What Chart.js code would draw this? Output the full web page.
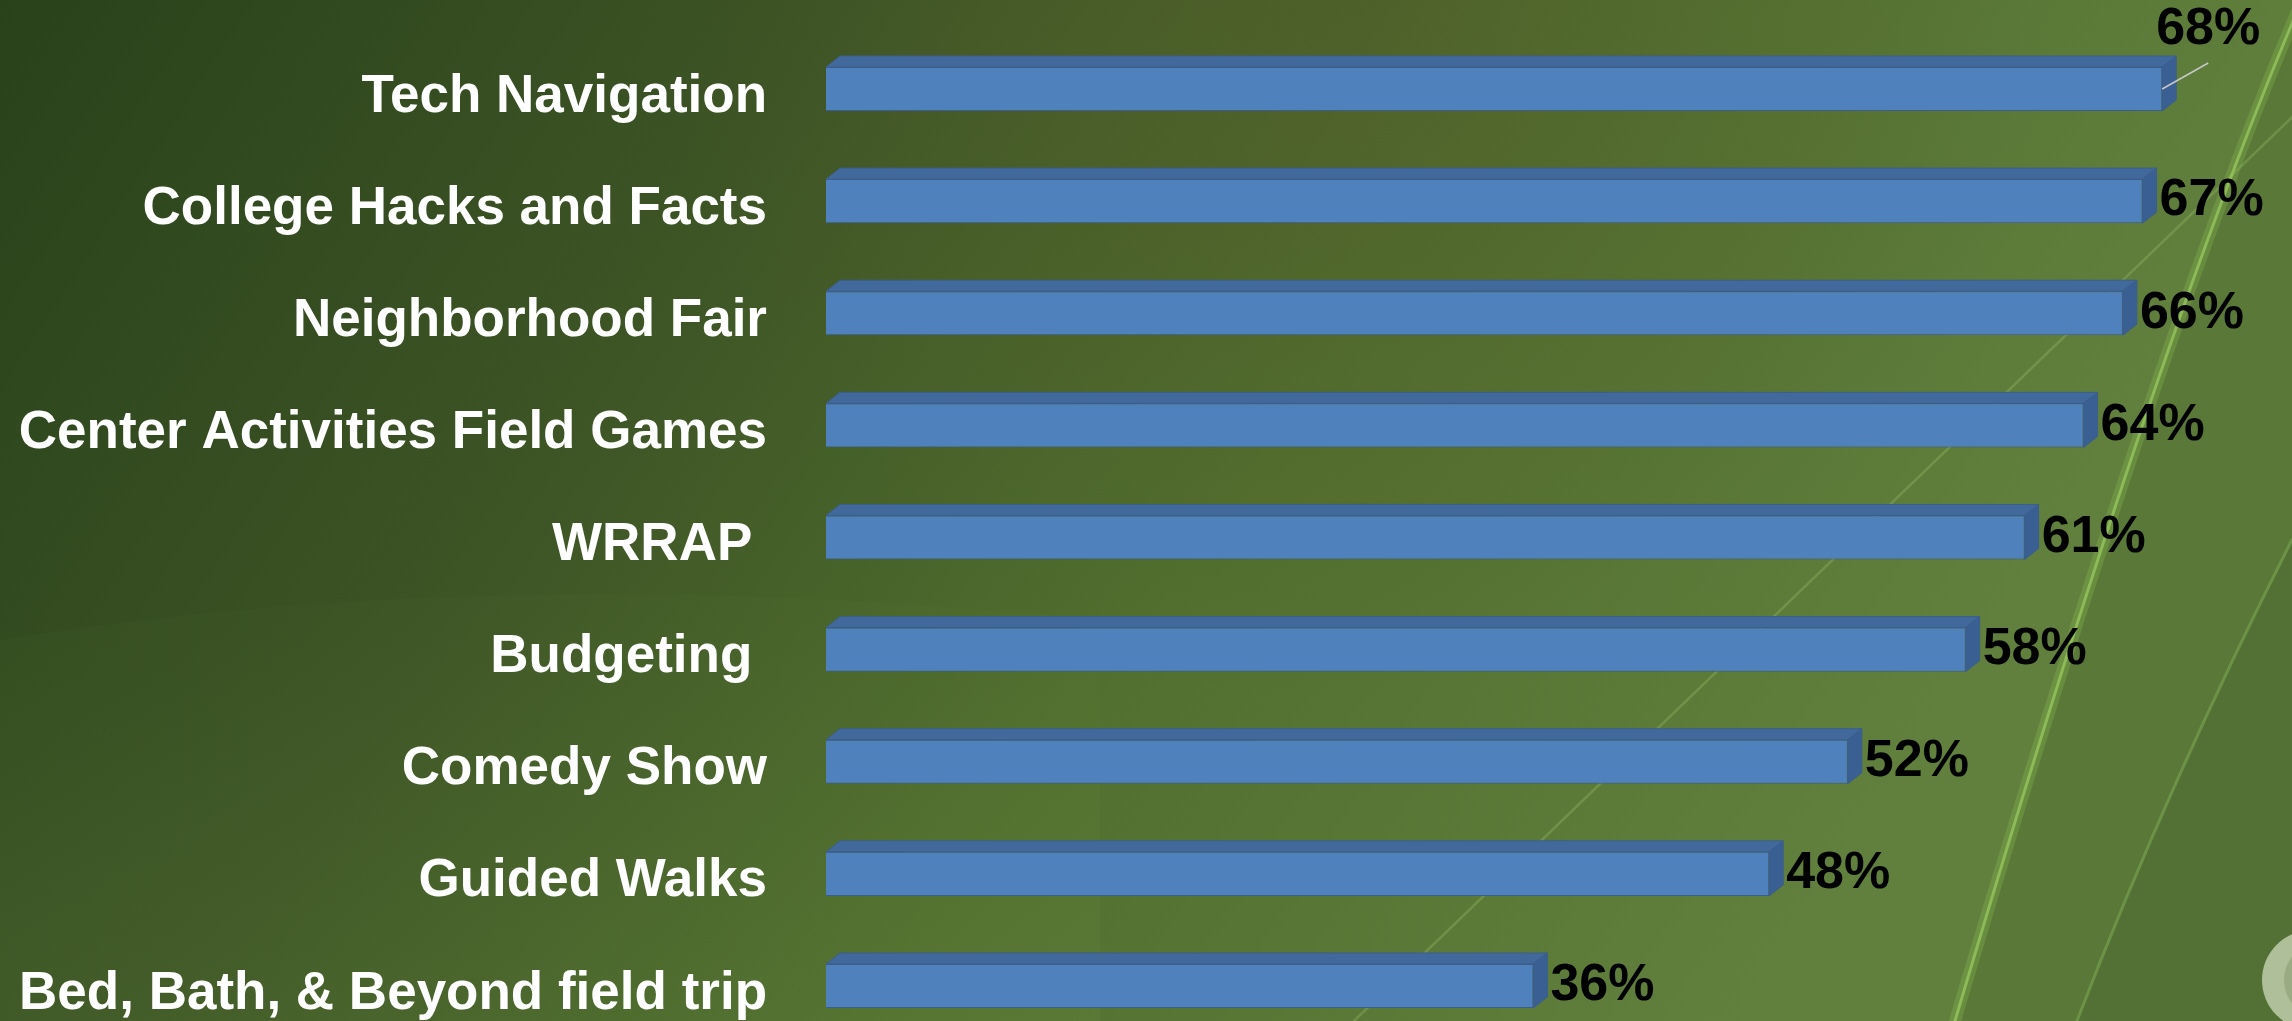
<!DOCTYPE html>
<html>
<head>
<meta charset="utf-8">
<script src="https://cdn.jsdelivr.net/npm/chart.js@4.4.1/dist/chart.umd.min.js"></script>
<style>
  html, body { margin: 0; padding: 0; overflow: hidden; background: #445e2a; }
  canvas { display: block; }
</style>
</head>
<body>
<canvas id="myChart" width="2292" height="1021"></canvas>
<script>
// activities (top to bottom)
const labels = [
    'Tech Navigation',
    'College Hacks and Facts',
    'Neighborhood Fair',
    'Center Activities Field Games',
    'WRRAP ',
    'Budgeting ',
    'Comedy Show',
    'Guided Walks',
    'Bed, Bath, & Beyond field trip',
];

// percent of participants
const values = [68, 67, 66, 64, 61, 58, 52, 48, 36];

// bar faces
const frontColor = '#4f81bd';
const topColor = '#42699b';
const sideColor = '#3a6093';
const edgeColor = '#3b5e8c';
const depthX = 14;
const depthY = 11;

const valueFont = 'bold 52px "Liberation Sans", Arial, sans-serif';

// slide background (leaf)
const leafBackground = {
    id: 'leafBackground',
    beforeDraw(chart) {
        const { ctx, width, height } = chart;
        ctx.save();
        let g = ctx.createLinearGradient(0, 0, 1700, 1100);
        g.addColorStop(0, '#29421a');
        g.addColorStop(0.35, '#3d5425');
        g.addColorStop(0.65, '#52702f');
        g.addColorStop(1, '#61803e');
        ctx.fillStyle = g;
        ctx.fillRect(0, 0, width, height);

        // olive haze along the top
        g = ctx.createRadialGradient(1350, 0, 0, 1350, 0, 700);
        g.addColorStop(0, 'rgba(80,90,40,0.55)');
        g.addColorStop(1, 'rgba(80,90,40,0)');
        ctx.fillStyle = g;
        ctx.fillRect(0, 0, width, height);

        // lighter lower-left leaf
        ctx.beginPath();
        ctx.moveTo(0, 640);
        ctx.quadraticCurveTo(500, 560, 1100, 620);
        ctx.lineTo(1100, height);
        ctx.lineTo(0, height);
        ctx.closePath();
        g = ctx.createLinearGradient(0, 620, 0, height);
        g.addColorStop(0, 'rgba(110,150,70,0.04)');
        g.addColorStop(1, 'rgba(110,150,70,0.15)');
        ctx.fillStyle = g;
        ctx.fill();

        // band right of the main streak
        ctx.beginPath();
        ctx.moveTo(2302, 0);
        ctx.quadraticCurveTo(2160, 330, 1955, height);
        ctx.lineTo(width, height);
        ctx.lineTo(width, 0);
        ctx.closePath();
        ctx.fillStyle = 'rgba(75,105,45,0.3)';
        ctx.fill();

        // darker band right of the second streak
        ctx.beginPath();
        ctx.moveTo(width, 540);
        ctx.quadraticCurveTo(2170, 780, 2077, height);
        ctx.lineTo(width, height);
        ctx.closePath();
        ctx.fillStyle = 'rgba(70,95,45,0.3)';
        ctx.fill();

        ctx.lineCap = 'round';
        // faint vein
        ctx.strokeStyle = 'rgba(160,200,110,0.3)';
        ctx.lineWidth = 2.5;
        ctx.beginPath();
        ctx.moveTo(1354, height);
        ctx.lineTo(2310, 100);
        ctx.stroke();

        // second streak
        ctx.beginPath();
        ctx.moveTo(width, 540);
        ctx.quadraticCurveTo(2170, 780, 2077, height);
        ctx.strokeStyle = 'rgba(150,200,100,0.35)';
        ctx.lineWidth = 3;
        ctx.stroke();

        // main bright streak
        ctx.beginPath();
        ctx.moveTo(2302, 0);
        ctx.quadraticCurveTo(2160, 330, 1955, height);
        ctx.strokeStyle = 'rgba(140,190,80,0.3)';
        ctx.lineWidth = 12;
        ctx.stroke();
        ctx.strokeStyle = 'rgba(160,210,100,0.65)';
        ctx.lineWidth = 3;
        ctx.stroke();

        // corner button
        ctx.beginPath();
        ctx.arc(2312, 980, 50, 0, Math.PI * 2);
        ctx.fillStyle = 'rgba(185,200,165,0.9)';
        ctx.fill();
        ctx.beginPath();
        ctx.arc(2322, 980, 38, 0, Math.PI * 2);
        ctx.fillStyle = 'rgba(150,168,128,0.9)';
        ctx.fill();
        ctx.restore();
    }
};

// top + side faces for the 3-D look
const bar3d = {
    id: 'bar3d',
    afterDatasetsDraw(chart) {
        const ctx = chart.ctx;
        const meta = chart.getDatasetMeta(0);
        ctx.save();
        ctx.lineWidth = 1;
        ctx.strokeStyle = edgeColor;
        meta.data.forEach(bar => {
            const top = bar.y - bar.height / 2;
            const bottom = bar.y + bar.height / 2;
            ctx.beginPath();
            ctx.moveTo(bar.base, top);
            ctx.lineTo(bar.base + depthX, top - depthY);
            ctx.lineTo(bar.x + depthX, top - depthY);
            ctx.lineTo(bar.x, top);
            ctx.closePath();
            ctx.fillStyle = topColor;
            ctx.fill();
            ctx.stroke();

            ctx.beginPath();
            ctx.moveTo(bar.x, top);
            ctx.lineTo(bar.x + depthX, top - depthY);
            ctx.lineTo(bar.x + depthX, bottom - depthY);
            ctx.lineTo(bar.x, bottom);
            ctx.closePath();
            ctx.fillStyle = sideColor;
            ctx.fill();
            ctx.stroke();
        });
        ctx.restore();
    }
};

// value labels
const valueLabels = {
    id: 'valueLabels',
    afterDatasetsDraw(chart) {
        const ctx = chart.ctx;
        const meta = chart.getDatasetMeta(0);
        const vals = chart.data.datasets[0].data;
        ctx.save();
        ctx.font = valueFont;
        ctx.fillStyle = '#000000';
        ctx.textBaseline = 'middle';
        meta.data.forEach((bar, i) => {
            const text = vals[i] + '%';
            const w = ctx.measureText(text).width;
            let x = bar.x + depthX + 3;
            if (x + w > chart.width - 20) {
                // no room: lift label above the bar with a leader line
                ctx.strokeStyle = '#c8c8c8';
                ctx.lineWidth = 1.5;
                ctx.beginPath();
                ctx.moveTo(bar.x, bar.y);
                ctx.lineTo(bar.x + 46, bar.y - 26);
                ctx.stroke();
                ctx.textAlign = 'center';
                ctx.fillText(text, bar.x + 46, bar.y - 59);
            } else {
                ctx.textAlign = 'left';
                ctx.fillText(text, x, bar.y);
            }
        });
        ctx.restore();
    }
};

const data = {
    labels: labels,
    datasets: [{
        data: values,
        backgroundColor: frontColor,
        borderColor: edgeColor,
        borderWidth: 1,
        barPercentage: 0.3925,
        categoryPercentage: 1,
        clip: false,
    }]
};

const config = {
    type: 'bar',
    data: data,
    options: {
        indexAxis: 'y',
        responsive: false,
        animation: false,
        layout: {
            padding: { top: 89, bottom: 35, left: 0, right: 90.5 }
        },
        plugins: {
            legend: { display: false },
            tooltip: { enabled: false },
        },
        scales: {
            x: {
                display: false,
                min: 0,
                max: 70,
            },
            y: {
                offset: false,
                grid: { display: false, drawTicks: false },
                border: { display: false },
                ticks: {
                    color: '#ffffff',
                    font: { family: '"Liberation Sans", Arial, sans-serif', size: 53, weight: 'bold' },
                    padding: 59,
                    labelOffset: 8,
                    autoSkip: false,
                },
                afterFit(scale) {
                    // fixed label column, no extra room for end labels
                    scale.width = 826;
                    scale.paddingTop = 0;
                    scale.paddingBottom = 0;
                }
            }
        }
    },
    plugins: [leafBackground, bar3d, valueLabels]
};

const myChart = new Chart(
    document.getElementById('myChart'),
    config
);
</script>
</body>
</html>
